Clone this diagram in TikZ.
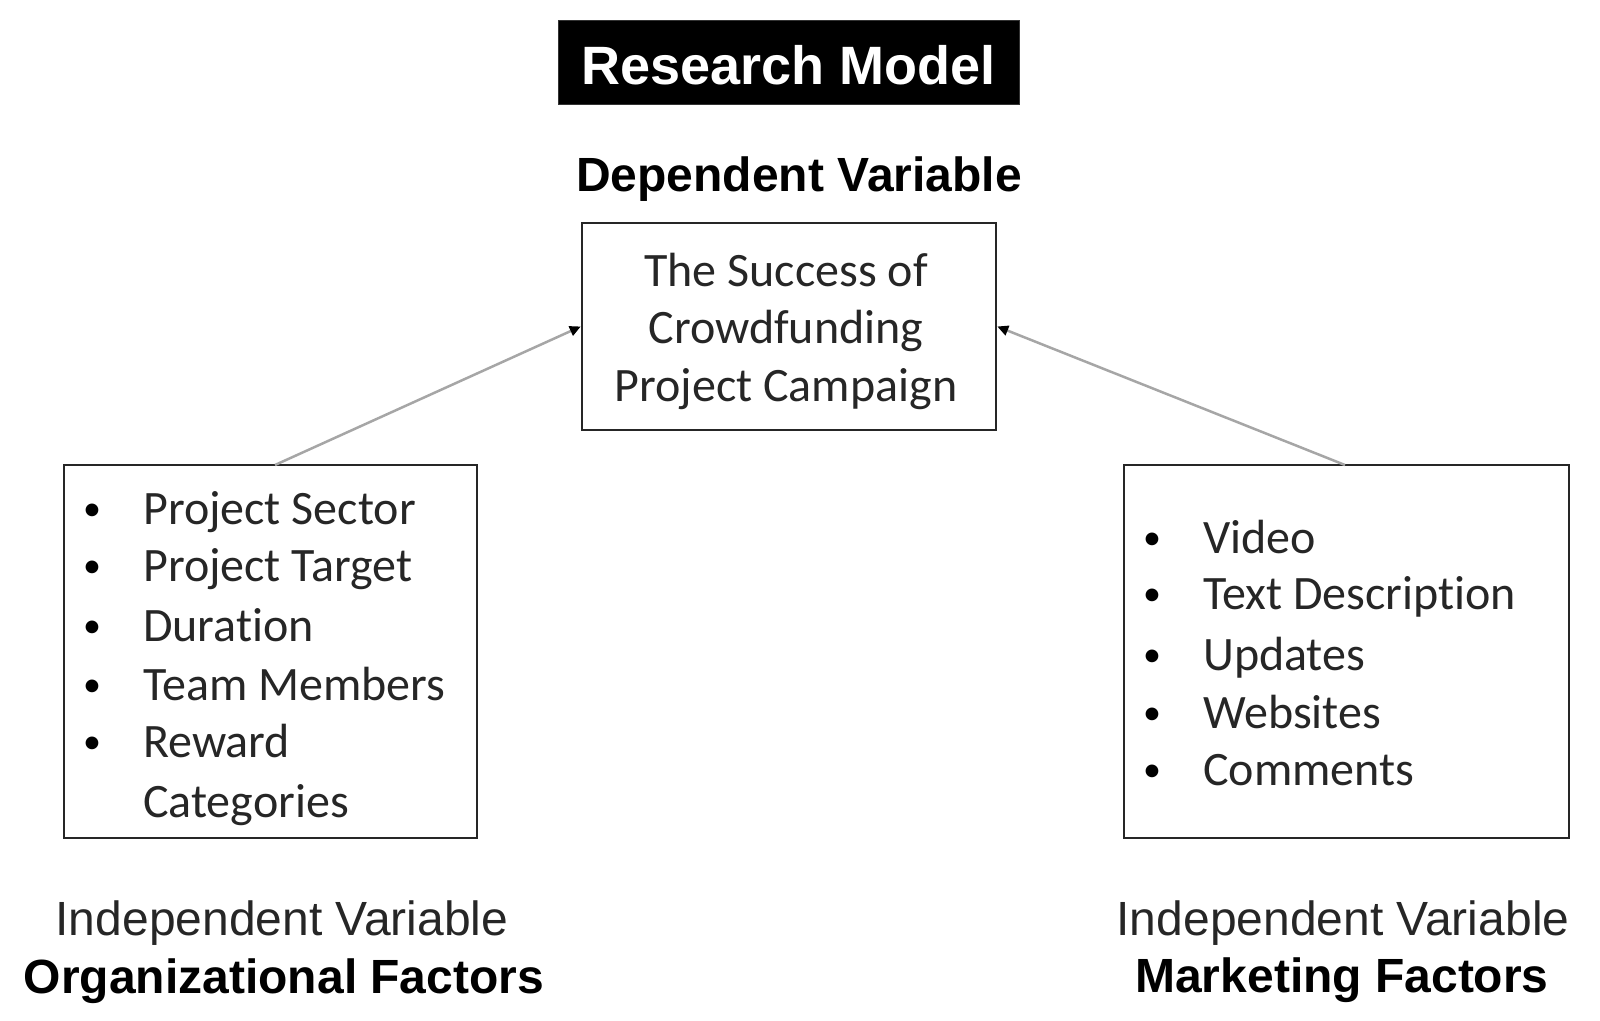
\documentclass[tikz,border=0pt]{standalone}
\usepackage{fontspec}
\setmainfont{Liberation Sans}
\newfontfamily\carlito[Ligatures={NoCommon,NoRare,NoContextual},Contextuals=NoAlternate]{Carlito}
\usetikzlibrary{arrows.meta}

\begin{document}
\begin{tikzpicture}[x=1pt,y=-1pt,
  frame/.style={draw=black!85, line width=2.5pt, inner sep=0pt, fill=white},
  titlebox/.style={fill=black, draw=black!80, line width=1pt, inner sep=0pt, text=white,
    font=\bfseries\fontsize{54}{60}\selectfont, minimum width=461, minimum height=84,
    text height=44pt, text depth=0pt},
  head/.style={anchor=base, inner sep=0pt, font=\bfseries\fontsize{48}{56}\selectfont},
  sub/.style={anchor=base, inner sep=0pt, text=black!85, font=\fontsize{48}{56}\selectfont},
  boxtext/.style={anchor=base, inner sep=0pt, text=black!85, font=\carlito\fontsize{48}{58}\selectfont},
  item/.style={anchor=base west, inner sep=0pt, text=black!85, font=\carlito\fontsize{48}{58}\selectfont},
  dot/.style={anchor=base, inner sep=0pt, yshift=4pt, text=black, font=\carlito\fontsize{36}{58}\selectfont},
  conn/.style={draw=black!35, line width=2.5pt,
    -{Triangle[length=11pt,width=10pt,color=black]}}]

\useasboundingbox (0,0) rectangle (1600,1020);

% title
\node[titlebox] (title) at (788.5,62) {Research Model};
\node[head] (dep) at (799,191) {Dependent Variable};

% dependent variable box
\node[frame, minimum width=414, minimum height=207] (cbox) at (789,326.5) {};
\node[boxtext] (c1) at (786,286) {The Success of};
\node[boxtext] (c2) at (786,343) {Crowdfunding};
\node[boxtext] (c3) at (786,401) {Project Campaign};

% left box
\node[frame, minimum width=413, minimum height=373] (lbox) at (270.5,651.5) {};
\node[dot] (lb1) at (92,524) {•};
\node[item] (l1) at (143,524) {Project Sector};
\node[dot] (lb2) at (92,581) {•};
\node[item] (l2) at (143,581) {Project Target};
\node[dot] (lb3) at (92,641) {•};
\node[item] (l3) at (143,641) {Duration};
\node[dot] (lb4) at (92,700) {•};
\node[item] (l4) at (143,700) {Team Members};
\node[dot] (lb5) at (92,757) {•};
\node[item] (l5) at (143,757) {Reward};
\node[item] (l6) at (143,817) {Categories};

% right box
\node[frame, minimum width=445, minimum height=373] (rbox) at (1346.5,651.5) {};
\node[dot] (rb1) at (1152,553) {•};
\node[item] (r1) at (1203,553) {Video};
\node[dot] (rb2) at (1152,609) {•};
\node[item] (r2) at (1203,609) {Text Description};
\node[dot] (rb3) at (1152,670) {•};
\node[item] (r3) at (1203,670) {Updates};
\node[dot] (rb4) at (1152,728) {•};
\node[item] (r4) at (1203,728) {Websites};
\node[dot] (rb5) at (1152,785) {•};
\node[item] (r5) at (1203,785) {Comments};

% bottom labels
\node[sub] (lsub) at (282,935) {Independent Variable};
\node[head] (lhead) at (284,993) {Organizational Factors};
\node[sub] (rsub) at (1343,935) {Independent Variable};
\node[head] (rhead) at (1342,992) {Marketing Factors};

% connectors
\coordinate (la) at (275,465);
\coordinate (ra) at (1345,465);
\draw[conn] (la) -- (cbox.west);
\draw[conn] (ra) -- (cbox.east);
\end{tikzpicture}
\end{document}
